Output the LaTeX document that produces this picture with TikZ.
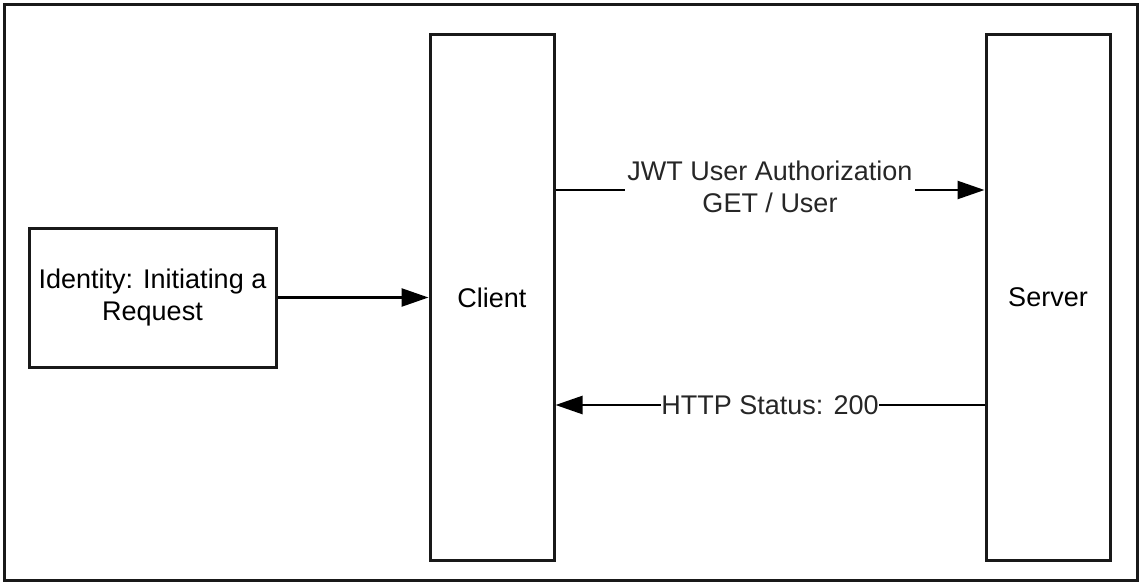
\documentclass[tikz,border=0pt]{standalone}
\usepackage{fontspec}
\setmainfont{Liberation Sans}
\usetikzlibrary{arrows.meta}
\begin{document}
\begin{tikzpicture}[x=1pt,y=-1pt,
  box/.style={draw=black!90,line width=3pt,inner sep=0pt,align=center,font=\fontsize{27}{32}\selectfont},
  conn/.style={draw=black,line width=2.5pt,-{Triangle[length=27pt,width=18pt]}},
  lbl/.style={fill=white,inner xsep=2pt,inner ysep=1pt,align=center,font=\fontsize{27}{32}\selectfont,text=black!85}]
\useasboundingbox (0,0) rectangle (1141,583);
\draw[line width=2.5pt,black!90] (4.5,4.5) rectangle (1137.5,580.5);
\node[box,minimum width=247pt,minimum height=139pt] (id) at (152.5,297.5) {Identity: Initiating a\\Request};
\node[box,minimum width=124pt,minimum height=525pt] (client) at (492,297.5) {Client};
\node[box,minimum width=124pt,minimum height=525pt] (server) at (1048,297.5) {Server};
\draw[conn] (id.east) -- (client.west |- id.east);
\coordinate (ja) at (client.east |- 0,190);
\coordinate (jb) at (server.west |- 0,190);
\draw[conn] (ja) -- node[lbl,yshift=3pt] {JWT User Authorization\\GET / User} (jb);
\coordinate (ha) at (server.west |- 0,405);
\coordinate (hb) at (client.east |- 0,405);
\draw[conn] (ha) -- node[lbl,inner xsep=0pt,inner ysep=0pt] {HTTP Status: 200} (hb);
\end{tikzpicture}
\end{document}
